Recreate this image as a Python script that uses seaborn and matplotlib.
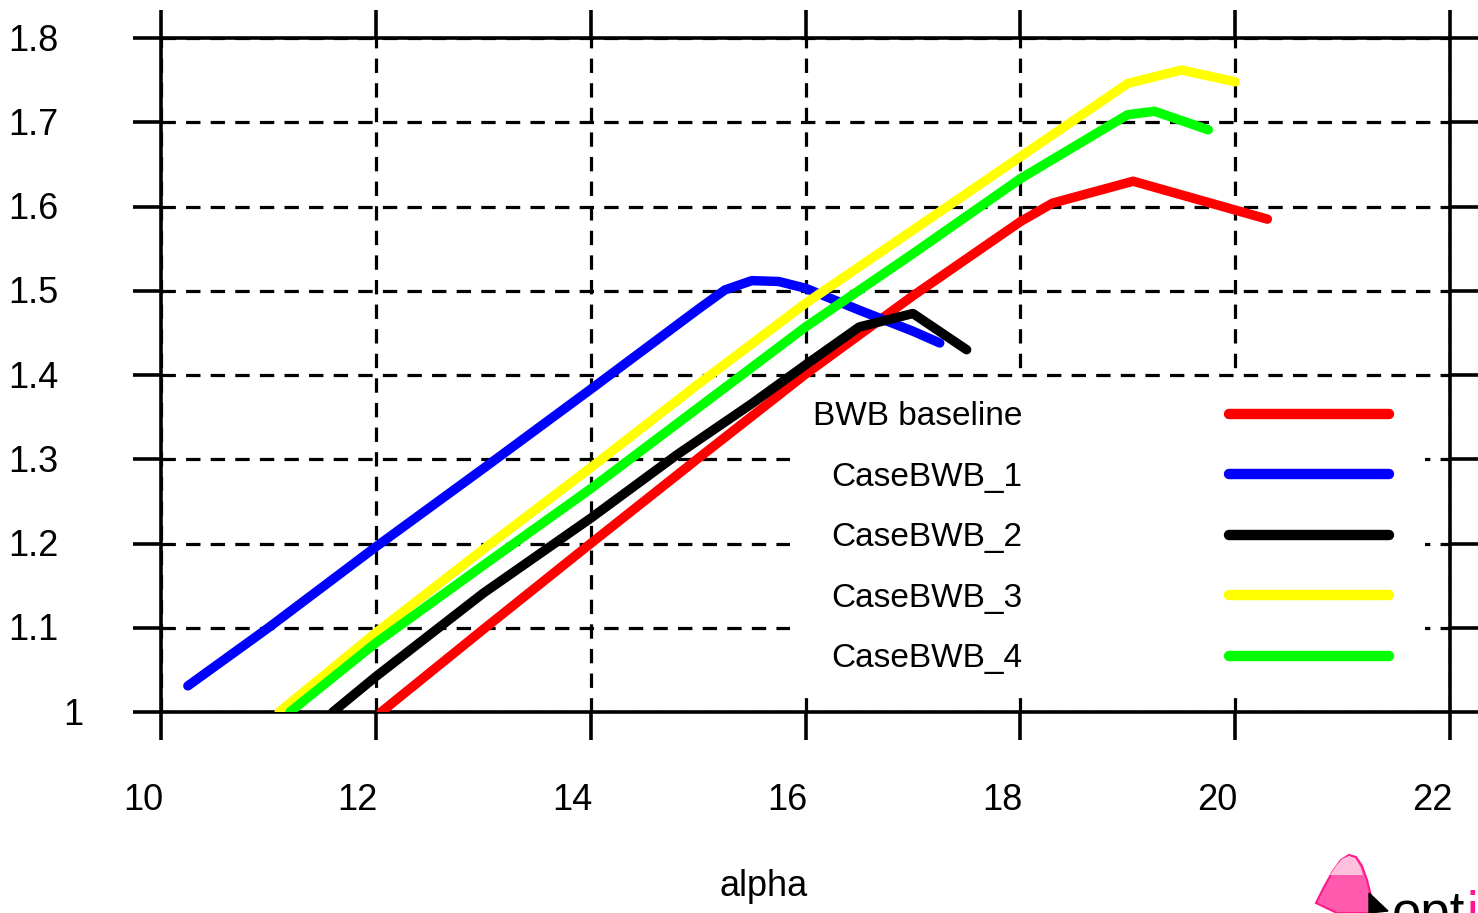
import matplotlib
matplotlib.use("Agg")
import matplotlib.pyplot as plt
import matplotlib.transforms as mtransforms
from matplotlib.patches import Polygon
import numpy as np
import pandas as pd
import seaborn as sns

# ---------------- data ----------------
cases = ["BWB baseline", "CaseBWB_1", "CaseBWB_2", "CaseBWB_3", "CaseBWB_4"]
colors = ["#ff0000", "#0000ff", "#000000", "#ffff00", "#00ff00"]

red_x = [12.05, 13, 14, 15, 16, 17, 18, 18.3, 19.05, 20.3]
red_y = [1.0, 1.098, 1.200, 1.301, 1.401, 1.494, 1.582, 1.604, 1.630, 1.585]

blue_x = [10.25, 11, 12, 13, 14, 15, 15.25, 15.5, 15.75, 16, 16.5, 17, 17.25]
blue_y = [1.031, 1.100, 1.196, 1.289, 1.383, 1.478, 1.501, 1.512, 1.511, 1.503, 1.477, 1.452, 1.438]

black_x = [11.6, 12, 13, 14, 14.8, 15.5, 16, 16.5, 17.0, 17.5]
black_y = [1.0, 1.042, 1.141, 1.230, 1.305, 1.366, 1.412, 1.457, 1.473, 1.430]

yellow_x = [11.1, 12, 13, 14, 15, 16, 17, 18, 19, 19.5, 20.0]
yellow_y = [1.0, 1.094, 1.193, 1.290, 1.389, 1.485, 1.572, 1.659, 1.746, 1.762, 1.748]

green_x = [11.2, 12, 13, 14, 15, 16, 17, 18, 19, 19.25, 19.75]
green_y = [1.0, 1.082, 1.174, 1.265, 1.361, 1.457, 1.544, 1.633, 1.709, 1.713, 1.691]

xticks = [10, 12, 14, 16, 18, 20, 22]
xticklabels = ["10", "12", "14", "16", "18", "20", "22"]
yticks = [1.0, 1.1, 1.2, 1.3, 1.4, 1.5, 1.6, 1.7, 1.8]
yticklabels = ["1", "1.1", "1.2", "1.3", "1.4", "1.5", "1.6", "1.7", "1.8"]
xlabel = "alpha"

series_x = [red_x, blue_x, black_x, yellow_x, green_x]
series_y = [red_y, blue_y, black_y, yellow_y, green_y]
frames = []
for name, xs, ys in zip(cases, series_x, series_y):
    frames.append(pd.DataFrame({"alpha": xs, "value": ys, "case": name}))
df = pd.concat(frames, ignore_index=True)

# ---------------- style ----------------
sns.set_theme(style="white")
FONT = ["Liberation Sans", "DejaVu Sans"]
plt.rcParams["font.family"] = FONT
plt.rcParams["text.color"] = "black"
plt.rcParams["axes.labelcolor"] = "black"
plt.rcParams["xtick.color"] = "black"
plt.rcParams["ytick.color"] = "black"

FS = 26
LFS = 24
W, H, DPI = 1478, 913, 100
fig = plt.figure(figsize=(W / DPI, H / DPI), dpi=DPI)
fig.patch.set_facecolor("white")

ax_l, ax_r, ax_t, ax_b = 161, 1450, 38, 712
ax = fig.add_axes([ax_l / W, 1 - ax_b / H, (ax_r - ax_l) / W, (ax_b - ax_t) / H])
ax.set_facecolor("white")

sns.lineplot(data=df, x="alpha", y="value", hue="case", hue_order=cases,
             palette=dict(zip(cases, colors)), estimator=None, sort=False,
             linewidth=6.8, solid_capstyle="round", solid_joinstyle="round",
             legend=False, ax=ax, zorder=3)

ax.set_xlim(10, 22)
ax.set_ylim(1.0, 1.8)
ax.set_xticks(xticks)
ax.set_xticklabels(xticklabels)
ax.set_yticks(yticks)
ax.set_yticklabels(yticklabels)

ax.set_axisbelow(True)
ax.grid(True, color="black", linestyle=(0, (4.5, 3.2)), linewidth=2.3)
for sp in ax.spines.values():
    sp.set_visible(True)
    sp.set_color("black")
    sp.set_linewidth(2.6)

ax.tick_params(axis="both", which="major", direction="out", length=20,
               width=2.6, color="black", labelcolor="black", labelsize=FS)
ax.tick_params(axis="x", top=True, bottom=True)
ax.tick_params(axis="y", left=True, right=True)

ax.set_xlabel(xlabel, fontsize=FS, color="black")
ax.set_ylabel("")
ax.xaxis.set_label_coords((764 - ax_l) / (ax_r - ax_l), (ax_b - 886) / (ax_b - ax_t))
ax.xaxis.label.set_va("center")

# legend (gnuplot-like key: text first, then sample)
handles = ax.get_lines()[:len(cases)]
leg = ax.legend(handles, cases, loc="upper left",
                bbox_to_anchor=((790 - ax_l) / (ax_r - ax_l), 0.0,
                                (1425 - 790) / (ax_r - ax_l),
                                (ax_b - 378) / (ax_b - ax_t)),
                mode="expand", borderaxespad=0, markerfirst=False,
                handlelength=4.8, handletextpad=6.2, labelspacing=0.885,
                borderpad=0.70, fontsize=LFS, frameon=True, fancybox=False,
                framealpha=1.0, facecolor="white", edgecolor="none")
leg.set_zorder(1.5)
for t in leg.get_texts():
    t.set_color("black")
for ln in leg.get_lines():
    ln.set_linewidth(7.5)
    ln.set_solid_capstyle("round")

# tick label placement like the original (gnuplot char-width based justification)
fig.canvas.draw()
for tick in ax.xaxis.get_major_ticks():
    lab = tick.label1
    lab.set_ha("center")
    lab.set_va("center")
    lab.set_transform(ax.get_xaxis_transform() +
                      mtransforms.ScaledTranslation(-18 / DPI, -(801 - ax_b) / DPI,
                                                    fig.dpi_scale_trans))
for tick, txt in zip(ax.yaxis.get_major_ticks(), yticklabels):
    lab = tick.label1
    lab.set_ha("center")
    lab.set_va("center")
    centre_px = 93 - 20 * len(txt)
    lab.set_transform(ax.get_yaxis_transform() +
                      mtransforms.ScaledTranslation((centre_px - ax_l) / DPI, -3 / DPI,
                                                    fig.dpi_scale_trans))

# partially visible logo in the lower right corner
def px(xp, yp):
    return (xp / W, 1 - yp / H)

cone = [px(1316, 903), px(1324, 887), px(1333, 871), px(1341, 860), px(1349, 855),
        px(1356, 857), px(1362, 866), px(1367, 880), px(1371, 896), px(1375, 913),
        px(1337, 913)]
fig.patches.append(Polygon(cone, closed=True, transform=fig.transFigure,
                           facecolor="#ff5aad", edgecolor="#ff1a8c", linewidth=1.5))
cone_top = [px(1330, 875), px(1336, 866), px(1342, 859), px(1349, 856),
            px(1355, 858), px(1360, 866), px(1363, 875)]
fig.patches.append(Polygon(cone_top, closed=True, transform=fig.transFigure,
                           facecolor="#ffc0de", edgecolor="none"))
arrow = [px(1369, 893), px(1388, 911), px(1369, 913)]
fig.patches.append(Polygon(arrow, closed=True, transform=fig.transFigure,
                           facecolor="black", edgecolor="black"))
logo_a = fig.text(1392 / W, 1 - 929 / H, "opt", fontsize=38, color="black",
                  family=["Liberation Sans", "DejaVu Sans"], ha="left", va="baseline")
fig.canvas.draw()
bb = logo_a.get_window_extent(fig.canvas.get_renderer())
fig.text(bb.x1 / W + 0.001, 1 - 929 / H, "i", fontsize=38, color="#ff1493",
         family=["Liberation Sans", "DejaVu Sans"], ha="left", va="baseline")

fig.savefig("out.png", dpi=DPI, facecolor="white")
